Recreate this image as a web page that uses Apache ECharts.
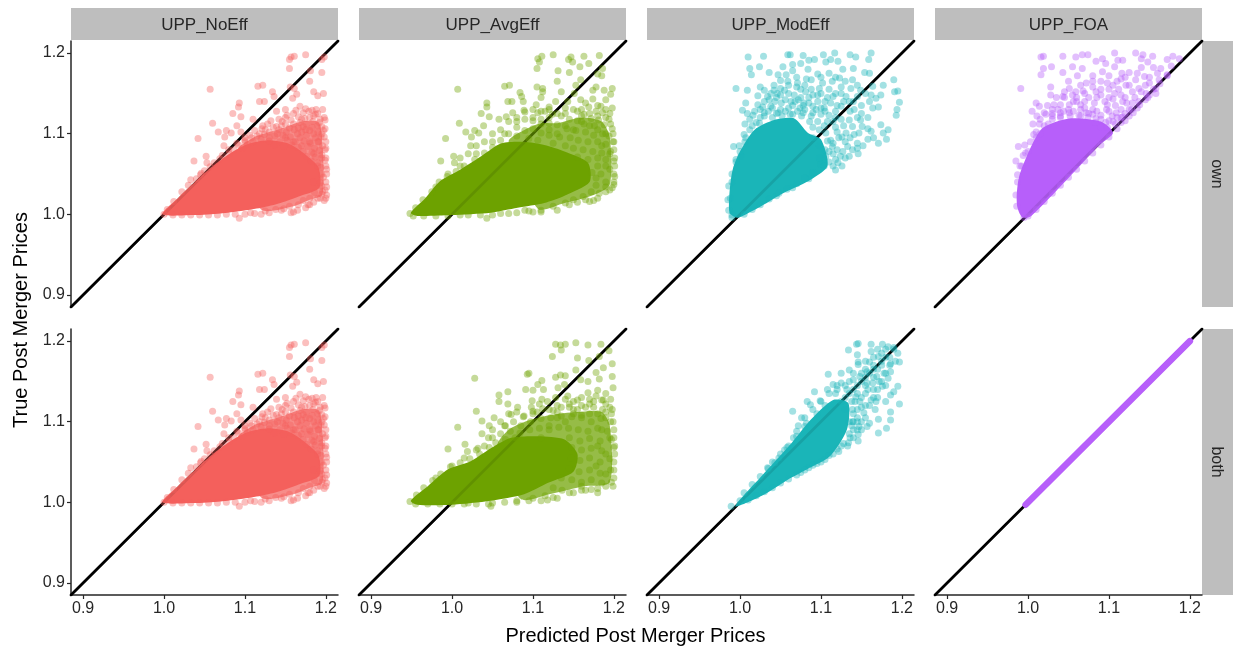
<!DOCTYPE html>
<html><head><meta charset="utf-8">
<script src="https://cdn.jsdelivr.net/npm/echarts@6/dist/echarts.min.js"></script>
<style>html,body{margin:0;padding:0;background:#fff}#c{width:1233px;height:652px}</style>
</head><body><div id="c"></div>
<script>
// Values. Visible points are listed one by one;
// areas where thousands of points overplot into a solid mass are given as outlines.
const columns = ['UPP_NoEff','UPP_AvgEff','UPP_ModEff','UPP_FOA'];
const rowsNames = ['own','both'];
const tickValues = [0.9,1.0,1.1,1.2];
const axisRange = [0.885,1.215];
const colors = ['#F4605C','#6DA200','#1AB5B8','#B75FFA'];
const diagonal = [[0.885,0.885],[1.215,1.215]];
const foaBothLine = [[0.997,0.997],[1.2,1.2]];

const noEffPts = [[1.057,1.155],[1.157,1.195],[1.161,1.196],[1.155,1.192],[1.175,1.198],[1.155,1.181],[1.198,1.195],[1.195,1.192],[1.181,1.178],[1.195,1.176],[1.18,1.165],[1.116,1.159],[1.122,1.16],[1.134,1.152],[1.156,1.158],[1.161,1.156],[1.185,1.152],[1.19,1.147],[1.197,1.15],[1.164,1.149],[1.159,1.144],[1.136,1.146],[1.118,1.14],[1.124,1.14],[1.093,1.138],[1.092,1.133],[1.139,1.128],[1.085,1.125],[1.095,1.121],[1.06,1.113],[1.09,1.11],[1.11,1.118],[1.067,1.102],[1.077,1.104],[1.083,1.101],[1.075,1.096],[1.042,1.094],[1.095,1.102],[1.074,1.085],[1.052,1.072],[1.037,1.066],[1.053,1.064],[1.045,1.049],[1.093,0.995],
[1.15,1.13],[1.16,1.125],[1.168,1.134],[1.175,1.131],[1.183,1.129],[1.188,1.13],[1.19,1.125],[1.196,1.13],[1.198,1.12],[1.15,1.12],[1.16,1.112],[1.17,1.118],[1.18,1.12],[1.19,1.11],[1.199,1.106],[1.198,1.096],[1.185,1.1],[1.175,1.105],[1.165,1.1],[1.155,1.107],[1.145,1.11],[1.135,1.108],[1.125,1.105],[1.118,1.1],[1.108,1.095],[1.1,1.09],[1.142,1.118],
[1.2,1.09],[1.199,1.08],[1.2,1.07],[1.2,1.06],[1.201,1.05],[1.2,1.04],[1.199,1.03],[1.2,1.02],[1.198,1.017],[1.195,1.025],[1.19,1.02],[1.185,1.015],[1.18,1.012],[1.175,1.008],[1.165,1.005],[1.16,1.003],[1.157,1.002],[1.13,1.002],[1.107,1.002],[1.12,1.0],[1.145,1.005],[1.033,1.043],[1.046,1.051],[1.057,1.059],[1.069,1.069],[1.08,1.08],[1.09,1.088],[1.1,1.095],
[1.195,1.1],[1.19,1.09],[1.18,1.09],[1.17,1.085],[1.185,1.075],[1.195,1.07],[1.16,1.09],[1.15,1.095],[1.14,1.1],[1.13,1.095],[1.195,1.05],[1.19,1.06],[1.195,1.035],[1.185,1.04]];
const noEffFill = [[1.163,1.129],[1.172,1.126],[1.179,1.128],[1.187,1.124],[1.152,1.123],[1.166,1.121],[1.174,1.119],[1.185,1.122],[1.193,1.118],[1.132,1.116],[1.146,1.115],[1.157,1.117],[1.168,1.114],[1.176,1.112],[1.184,1.115],[1.192,1.114],[1.199,1.117],[1.122,1.11],[1.128,1.112],[1.139,1.109],[1.15,1.112],[1.166,1.107],[1.172,1.109],[1.183,1.108],[1.195,1.109],[1.112,1.104],[1.121,1.106],[1.13,1.102],[1.142,1.105],[1.151,1.102],[1.161,1.105],[1.17,1.102],[1.18,1.104],[1.19,1.102],[1.197,1.104],[1.106,1.098],[1.115,1.097],[1.124,1.099],[1.137,1.097],[1.147,1.098],[1.156,1.096],[1.168,1.095],[1.176,1.098],[1.187,1.095],[1.194,1.096],[1.1,1.092],[1.11,1.09],[1.12,1.093],[1.13,1.091],[1.143,1.09],[1.152,1.092],[1.162,1.09],[1.173,1.091],[1.181,1.088],[1.191,1.09],[1.092,1.086],[1.103,1.087],[1.136,1.086],[1.148,1.084],[1.158,1.086],[1.166,1.083],[1.178,1.084],[1.186,1.082],[1.196,1.085],[1.086,1.08],[1.097,1.082],[1.172,1.078],[1.183,1.077],[1.192,1.079],[1.2,1.082],[1.08,1.075],[1.176,1.072],[1.187,1.071],[1.195,1.074],[1.182,1.066],[1.19,1.064],[1.199,1.067],[1.194,1.058],[1.201,1.056],[1.197,1.046],[1.193,1.039],[1.201,1.034],[1.196,1.028],[1.201,1.024],[1.193,1.02],[1.186,1.027],[1.18,1.02],[1.172,1.017],[1.178,1.012],[1.166,1.012],[1.155,1.01],[1.148,1.007],[1.138,1.006],[1.125,1.004],[1.112,1.001],[1.1,1.0],[1.088,1.0],[1.077,1.0],[1.066,0.999],[1.055,0.999],[1.044,0.999],[1.033,0.999],[1.022,0.999],[1.011,0.999],[1.0,1.0],[1.004,1.006],[1.012,1.016],[1.022,1.028],[1.03,1.036],[1.04,1.044],[1.05,1.054],[1.062,1.064],[1.072,1.073]];
const avgOwnPts = [[1.007,1.155],[1.105,1.181],[1.106,1.193],[1.111,1.196],[1.108,1.189],[1.125,1.198],[1.147,1.195],[1.144,1.192],[1.163,1.196],[1.182,1.197],[1.149,1.189],[1.169,1.187],[1.158,1.183],[1.131,1.178],[1.145,1.176],[1.186,1.181],[1.18,1.174],[1.13,1.165],[1.159,1.167],[1.185,1.172],[1.065,1.159],[1.071,1.16],[1.105,1.158],[1.112,1.156],[1.153,1.16],[1.178,1.158],[1.198,1.156],[1.188,1.154],[1.135,1.152],[1.084,1.151],[1.112,1.152],[1.151,1.15],[1.174,1.154],[1.196,1.149],[1.086,1.146],[1.11,1.145],[1.128,1.14],[1.069,1.14],[1.074,1.14],[1.088,1.14],[1.043,1.138],[1.043,1.133],[1.104,1.136],[1.12,1.133],[1.089,1.129],[1.143,1.14],[1.159,1.142],[1.174,1.143],[1.19,1.142],[1.198,1.132],[1.184,1.134],[1.036,1.125],[1.046,1.121],[1.075,1.126],[1.067,1.121],[1.058,1.118],[1.009,1.113],[1.039,1.11],[1.017,1.102],[1.028,1.104],[1.033,1.101],[1.024,1.096],[0.992,1.094],[1.023,1.085],[1.002,1.072],[0.986,1.066],[1.003,1.064],[1.043,0.995],
[1.1,1.12],[1.11,1.118],[1.12,1.12],[1.13,1.125],[1.14,1.125],[1.15,1.13],[1.16,1.13],[1.17,1.125],[1.18,1.122],[1.19,1.12],[1.196,1.112],[1.199,1.1],[1.2,1.09],[1.2,1.08],[1.201,1.07],[1.201,1.06],[1.2,1.05],[1.2,1.04],[1.198,1.033],[1.19,1.028],[1.18,1.02],[1.175,1.017],[1.165,1.018],[1.155,1.015],[1.145,1.012],[1.13,1.005],[1.11,1.003],[1.095,1.004],[1.08,1.002],[1.05,0.999],[1.02,0.999],[0.98,1.034],[0.995,1.05],[1.01,1.06],[1.03,1.075],[1.05,1.09],[1.065,1.1],[1.08,1.115],[1.19,1.1],[1.18,1.105],[1.17,1.11],[1.16,1.115],[1.15,1.105],[1.14,1.11],[1.13,1.1],[1.12,1.105],[1.185,1.085],[1.195,1.075],[1.18,1.07],[1.19,1.06],[1.178,1.045],[1.19,1.04],
[1.09,1.127],[1.1,1.13],[1.11,1.128],[1.12,1.13],[1.14,1.132],[1.165,1.138],[1.18,1.135],[1.19,1.13],[1.195,1.125],[1.16,1.122],[1.07,1.115],[1.08,1.12],[1.06,1.105],[1.05,1.1],[1.04,1.09],[1.03,1.085],[1.02,1.075],[1.01,1.07]];
const avgOwnFill = [[1.169,1.133],[1.178,1.128],[1.186,1.126],[1.155,1.128],[1.163,1.124],[1.172,1.119],[1.181,1.117],[1.194,1.118],[1.106,1.126],[1.115,1.128],[1.124,1.124],[1.135,1.122],[1.145,1.118],[1.155,1.116],[1.163,1.112],[1.176,1.11],[1.188,1.111],[1.198,1.106],[1.09,1.118],[1.1,1.116],[1.11,1.112],[1.12,1.113],[1.13,1.111],[1.142,1.106],[1.153,1.104],[1.165,1.102],[1.175,1.098],[1.186,1.1],[1.194,1.097],[1.08,1.108],[1.09,1.104],[1.1,1.106],[1.11,1.101],[1.12,1.098],[1.133,1.096],[1.146,1.095],[1.156,1.092],[1.168,1.09],[1.18,1.09],[1.19,1.087],[1.199,1.09],[1.07,1.1],[1.08,1.097],[1.095,1.094],[1.106,1.092],[1.125,1.088],[1.14,1.085],[1.15,1.082],[1.162,1.08],[1.174,1.078],[1.185,1.076],[1.196,1.078],[1.155,1.071],[1.168,1.068],[1.18,1.06],[1.19,1.068],[1.2,1.066],[1.173,1.052],[1.184,1.05],[1.195,1.056],[1.201,1.047],[1.178,1.036],[1.19,1.034],[1.2,1.037],[1.172,1.028],[1.182,1.026],[1.195,1.03],[1.162,1.022],[1.17,1.016],[1.15,1.018],[1.14,1.014],[1.125,1.01],[1.11,1.005],[1.1,1.003],[1.09,1.005],[1.07,1.001],[1.06,1.001],[1.035,0.999],[1.01,0.999],[0.995,0.998],[0.98,0.998],[0.965,0.998],[0.952,0.998],[0.948,1.001],[0.955,1.008],[0.964,1.018],[0.975,1.028],[0.984,1.04],[0.994,1.047],[1.005,1.053],[1.015,1.06],[1.028,1.068],[1.04,1.076],[1.05,1.083],[1.06,1.092]];
const avgBothPts = [[1.028,1.154],[1.128,1.196],[1.134,1.195],[1.14,1.196],[1.135,1.189],[1.153,1.198],[1.168,1.195],[1.184,1.196],[1.124,1.181],[1.155,1.179],[1.169,1.176],[1.194,1.188],[1.182,1.181],[1.198,1.172],[1.187,1.167],[1.093,1.159],[1.095,1.16],[1.128,1.155],[1.134,1.158],[1.14,1.157],[1.153,1.164],[1.178,1.161],[1.182,1.153],[1.159,1.152],[1.168,1.15],[1.198,1.156],[1.199,1.142],[1.111,1.151],[1.106,1.146],[1.139,1.146],[1.091,1.14],[1.1,1.139],[1.113,1.14],[1.069,1.137],[1.058,1.133],[1.111,1.128],[1.099,1.126],[1.058,1.125],[1.069,1.122],[1.131,1.142],[1.143,1.132],[1.155,1.127],[1.168,1.136],[1.18,1.139],[1.187,1.127],[1.03,1.113],[1.081,1.118],[1.1,1.113],[1.037,1.101],[1.046,1.095],[1.052,1.105],[1.007,1.093],[1.037,1.085],[0.995,1.066],[1.016,1.072],[1.019,1.063],[1.032,1.067],[1.048,0.995],[1.073,1.109],[1.089,1.107],
[1.12,1.115],[1.13,1.12],[1.145,1.118],[1.16,1.12],[1.175,1.125],[1.19,1.122],[1.197,1.11],[1.199,1.1],[1.2,1.09],[1.2,1.08],[1.201,1.07],[1.201,1.06],[1.2,1.05],[1.2,1.04],[1.2,1.03],[1.199,1.02],[1.19,1.02],[1.18,1.017],[1.165,1.015],[1.16,1.02],[1.145,1.012],[1.13,1.005],[1.118,1.003],[1.1,1.005],[1.08,1.002],[1.05,0.999],[1.02,0.999],[0.98,1.03],[1.0,1.045],[1.015,1.055],[1.03,1.065],[1.05,1.08],[1.065,1.095],[1.19,1.105],[1.18,1.11],[1.17,1.11],[1.16,1.105],[1.15,1.11],[1.14,1.1],[1.13,1.105],[1.12,1.095],[1.185,1.09],[1.195,1.08],[1.18,1.07],[1.19,1.06],[1.178,1.045],[1.19,1.035],
[1.098,1.118],[1.108,1.122],[1.118,1.125],[1.128,1.13],[1.14,1.128],[1.15,1.125],[1.16,1.13],[1.17,1.128],[1.178,1.132],[1.19,1.135],[1.196,1.128],[1.198,1.115],[1.105,1.112],[1.13,1.112],[1.15,1.115],[1.17,1.122],[1.19,1.112],[1.08,1.112],[1.07,1.11],[1.06,1.1],[1.05,1.09],[1.045,1.08],[1.04,1.07]];
const avgBothFill = [[1.185,1.127],[1.175,1.118],[1.186,1.115],[1.195,1.118],[1.165,1.118],[1.155,1.115],[1.145,1.122],[1.135,1.118],[1.125,1.114],[1.112,1.116],[1.1,1.11],[1.088,1.106],[1.076,1.1],[1.066,1.095],[1.085,1.095],[1.097,1.1],[1.11,1.104],[1.122,1.105],[1.135,1.107],[1.148,1.106],[1.16,1.108],[1.172,1.1],[1.184,1.104],[1.196,1.1],[1.06,1.085],[1.072,1.088],[1.084,1.086],[1.096,1.09],[1.108,1.092],[1.12,1.09],[1.132,1.093],[1.144,1.092],[1.156,1.09],[1.168,1.088],[1.18,1.092],[1.192,1.088],[1.054,1.074],[1.066,1.078],[1.078,1.08],[1.11,1.08],[1.145,1.08],[1.158,1.076],[1.17,1.079],[1.183,1.076],[1.197,1.078],[1.148,1.068],[1.16,1.065],[1.172,1.067],[1.185,1.064],[1.2,1.068],[1.147,1.055],[1.158,1.052],[1.17,1.055],[1.183,1.05],[1.195,1.054],[1.145,1.042],[1.157,1.038],[1.17,1.04],[1.183,1.036],[1.196,1.04],[1.135,1.03],[1.148,1.028],[1.16,1.025],[1.172,1.028],[1.185,1.024],[1.197,1.025],[1.125,1.018],[1.136,1.015],[1.15,1.012],[1.16,1.015],[1.172,1.016],[1.18,1.012],[1.115,1.008],[1.125,1.006],[1.11,1.002],[1.095,1.002],[1.08,1.0],[1.065,1.0],[1.045,0.998],[1.03,0.998],[1.015,0.998],[1.0,0.998],[0.985,0.998],[0.97,0.998],[0.955,0.998],[0.948,1.001],[0.956,1.009],[0.965,1.018],[0.976,1.027],[0.986,1.035],[0.998,1.044],[1.01,1.049],[1.022,1.054],[1.034,1.06],[1.046,1.068]];
const modOwnPts = [[1.01,1.195],[1.029,1.196],[1.059,1.198],[1.062,1.198],[1.078,1.197],[1.103,1.198],[1.117,1.2],[1.136,1.198],[1.143,1.195],[1.162,1.2],[1.159,1.192],[1.012,1.181],[1.024,1.183],[1.014,1.173],[1.036,1.176],[1.053,1.183],[1.065,1.186],[1.075,1.187],[1.085,1.191],[1.092,1.192],[1.112,1.192],[1.121,1.19],[1.106,1.189],[1.127,1.18],[1.14,1.181],[1.154,1.176],[1.16,1.175],[1.084,1.18],[1.065,1.178],[1.047,1.173],[1.057,1.173],[1.096,1.174],[1.11,1.175],[1.123,1.169],[1.139,1.167],[1.19,1.167],[0.995,1.156],[1.009,1.154],[1.025,1.158],[1.042,1.16],[1.059,1.165],[1.071,1.163],[1.088,1.167],[1.102,1.163],[1.114,1.165],[1.125,1.158],[1.137,1.156],[1.149,1.154],[1.164,1.159],[1.177,1.16],[1.191,1.152],[1.195,1.153],[1.197,1.139],[1.194,1.13],[1.193,1.123],[1.168,1.144],[1.162,1.148],[1.174,1.148],[1.164,1.132],[1.171,1.133],[1.022,1.147],[1.042,1.154],[1.055,1.154],[1.067,1.148],[1.081,1.152],[1.1,1.15],[1.131,1.146],[1.145,1.146],[1.007,1.138],[1.003,1.129],[1.009,1.125],[1.022,1.136],[1.036,1.142],[1.051,1.138],[1.063,1.14],[1.079,1.138],[1.096,1.14],[1.112,1.138],[1.125,1.134],[1.141,1.13],[1.016,1.123],[1.03,1.126],[1.047,1.126],[1.071,1.128],[1.09,1.126],[1.11,1.123],[1.135,1.117],[1.149,1.117],[1.128,1.11],[1.139,1.109],[1.151,1.109],[1.174,1.111],[1.162,1.103],[1.183,1.105],[1.177,1.101],[1.181,1.093],[1.171,1.088],[1.158,1.093],[1.147,1.101],[1.141,1.099],[1.131,1.101],[1.133,1.084],[1.146,1.075],[1.139,1.08],[1.127,1.078],[1.121,1.064],[1.124,1.072],[1.006,1.112],[1.005,1.099],[1.007,1.095],[0.992,1.084],[0.999,1.085],[1.001,1.072],[0.995,1.068],[1.024,1.113],[1.106,1.101],[1.108,1.091],[1.114,1.084],[1.106,1.072],
[1.03,1.14],[1.045,1.145],[1.06,1.15],[1.075,1.145],[1.09,1.148],[1.105,1.14],[1.118,1.128],[1.04,1.132],[1.06,1.132],[1.08,1.13],[1.1,1.132],[1.115,1.115],[1.122,1.095],[1.13,1.07],[1.115,1.06],[1.1,1.062],[1.085,1.044],[1.065,1.033],[1.045,1.023],[1.025,1.012],[0.99,1.04],[0.988,1.02],[0.986,1.005],[0.99,0.996],
[1.012,1.118],[1.018,1.128],[1.028,1.133],[1.035,1.128],[1.043,1.14],[1.056,1.142],[1.068,1.14],[1.074,1.132],[1.085,1.138],[1.094,1.13],[1.104,1.132],[1.108,1.145],[1.056,1.128],[1.046,1.15],[1.06,1.16],[1.075,1.155],[1.088,1.155],[1.098,1.156],[1.11,1.155],[1.118,1.15],[1.128,1.14],[1.12,1.135],[1.038,1.15],[1.05,1.156],[1.07,1.17],[1.082,1.168],[1.1,1.17],[1.118,1.17],[1.13,1.165],[1.145,1.16],[1.155,1.15],[1.14,1.14],[1.15,1.135],[1.136,1.128],[1.145,1.12],[1.158,1.12],[1.125,1.118],[1.118,1.108],[1.126,1.096],[1.136,1.095],[1.145,1.082],[1.135,1.072],[1.126,1.06],[1.118,1.055],[1.115,1.088],[1.108,1.115],[1.088,1.122],[1.078,1.126],[1.065,1.124],[1.045,1.125],[1.025,1.12],[1.015,1.11],[1.098,1.105],[1.09,1.108],[1.11,1.078],[1.12,1.08]];
const modOwnFill = [[1.03,1.122],[1.04,1.12],[1.052,1.122],[1.062,1.124],[1.076,1.122],[1.086,1.115],[1.096,1.115],[1.104,1.11],[1.1,1.124],[1.02,1.114],[1.012,1.105],[1.006,1.09],[1.0,1.078],[0.995,1.065],[0.99,1.05],[0.986,1.035],[0.985,1.018],[1.025,1.13],[1.038,1.134],[1.05,1.13],[1.065,1.135],[1.078,1.135],[1.09,1.134],[1.105,1.128],[1.118,1.12],[1.034,1.146],[1.05,1.148],[1.072,1.142],[1.085,1.145],[1.096,1.148],[1.115,1.146],[1.07,1.158],[1.05,1.166],[1.08,1.16],[1.03,1.154],[1.09,1.095],[1.098,1.085],[1.105,1.08],[1.112,1.092],[1.115,1.075],[1.11,1.065],[1.118,1.068],[1.098,1.07],[1.104,1.06],[1.09,1.052],[1.08,1.045],[1.07,1.038],[1.058,1.031],[1.048,1.026],[1.036,1.019],[1.015,1.006],[1.005,1.0],[0.99,0.999],[1.13,1.09],[1.12,1.102],[1.152,1.085],[1.145,1.088],[1.165,1.095],[1.158,1.106],[1.15,1.125],[1.16,1.14],[1.125,1.15],[1.135,1.14]];
const foaOwnPts = [[0.991,1.156],[1.016,1.195],[1.019,1.196],[1.043,1.196],[1.059,1.195],[1.067,1.198],[1.074,1.198],[1.084,1.19],[1.092,1.193],[1.096,1.187],[1.107,1.2],[1.111,1.191],[1.117,1.191],[1.133,1.2],[1.142,1.198],[1.14,1.193],[1.148,1.189],[1.154,1.196],[1.172,1.192],[1.179,1.196],[1.187,1.193],[1.177,1.184],[1.019,1.181],[1.029,1.183],[1.016,1.173],[1.043,1.176],[1.055,1.183],[1.067,1.181],[1.107,1.183],[1.14,1.182],[1.155,1.182],[1.164,1.181],[1.116,1.175],[1.125,1.176],[1.08,1.172],[1.092,1.177],[1.133,1.167],[1.144,1.171],[1.172,1.173],[1.162,1.167],[1.061,1.172],[1.028,1.158],[1.051,1.156],[1.072,1.163],[1.098,1.163],[1.121,1.16],[1.15,1.163],[1.158,1.156],[1.137,1.156],[1.028,1.148],[1.043,1.146],[1.059,1.152],[1.084,1.152],[1.107,1.15],[1.129,1.152],[1.146,1.15],[1.01,1.138],[1.005,1.128],[1.014,1.134],[1.024,1.135],[1.011,1.122],[1.02,1.126],[1.037,1.13],[1.051,1.136],[1.065,1.136],[1.082,1.138],[1.098,1.136],[1.117,1.14],[1.129,1.138],[1.137,1.14],[1.006,1.112],[1.014,1.112],[1.007,1.099],[1.01,1.095],[0.988,1.084],[0.996,1.086],[0.994,1.073],[0.985,1.066],[0.987,1.049],[1.051,1.126],[1.072,1.126],[1.09,1.123],[1.109,1.126],[1.125,1.13],[1.117,1.121],[1.105,1.115],[1.084,1.119],
[1.045,1.145],[1.06,1.14],[1.075,1.145],[1.09,1.148],[1.1,1.145],[1.115,1.148],[1.03,1.125],[1.04,1.12],[1.065,1.13],[1.08,1.13],[1.1,1.128],[1.115,1.13],[0.99,1.06],[1.0,1.078],[1.015,1.1],[1.025,1.112],
[1.015,1.118],[1.022,1.124],[1.032,1.136],[1.044,1.128],[1.056,1.128],[1.07,1.132],[1.08,1.124],[1.09,1.118],[1.1,1.116],[1.11,1.12],[1.12,1.125],[1.128,1.13],[1.138,1.136],[1.148,1.145],[1.158,1.15],[1.095,1.14],[1.105,1.143],[1.122,1.138],[1.132,1.145],[1.145,1.16],[1.125,1.16],[1.112,1.155],[1.1,1.155],[1.085,1.145],[1.07,1.15],[1.055,1.148],[1.045,1.152],[1.035,1.145],[1.065,1.16],[1.08,1.158],[1.09,1.165],[1.1,1.172],[1.11,1.165],[1.12,1.17],[1.135,1.175],[1.15,1.17],[1.16,1.175],[1.06,1.145],[1.075,1.125],[1.065,1.122],[1.05,1.13],[1.04,1.126],[1.03,1.122],[1.104,1.122],[1.115,1.12],[1.096,1.114]];
const foaOwnFill = [[1.02,1.11],[1.03,1.118],[1.04,1.122],[1.052,1.122],[1.063,1.123],[1.074,1.12],[1.083,1.114],[1.09,1.108],[1.098,1.108],[1.108,1.112],[1.115,1.114],[1.125,1.122],[1.135,1.132],[1.145,1.142],[1.155,1.155],[1.15,1.148],[1.163,1.162],[1.172,1.172],[1.03,1.13],[1.04,1.136],[1.056,1.14],[1.07,1.14],[1.085,1.128],[1.097,1.13],[1.108,1.135],[1.12,1.145],[1.14,1.152],[1.05,1.165],[1.068,1.153],[1.09,1.155],[1.105,1.16],[1.08,1.165],[1.115,1.168],[1.01,1.102],[1.003,1.09],[0.997,1.076],[0.992,1.06],[0.987,1.04],[0.985,1.024],[0.986,1.01],[0.995,0.996],[1.0,0.998],[1.01,1.006],[1.02,1.016],[1.03,1.026],[1.04,1.036],[1.05,1.046],[1.06,1.056],[1.07,1.066],[1.08,1.076],[1.09,1.086],[1.1,1.096],[1.11,1.106],[1.12,1.116],[1.13,1.126]];
const modBothPts = [[1.146,1.197],[1.144,1.196],[1.134,1.189],[1.162,1.196],[1.176,1.196],[1.183,1.193],[1.162,1.187],[1.145,1.183],[1.146,1.174],[1.146,1.171],[1.195,1.185],[1.197,1.174],[1.186,1.172],[1.171,1.181],[1.16,1.174],[1.109,1.159],[1.125,1.16],[1.135,1.164],[1.157,1.162],[1.169,1.156],[1.183,1.154],[1.195,1.144],[1.19,1.137],[1.186,1.133],[1.197,1.122],[1.176,1.144],[1.186,1.162],[1.164,1.148],[1.115,1.146],[1.108,1.14],[1.092,1.137],[1.083,1.125],[1.099,1.126],[1.087,1.121],[1.065,1.113],[1.076,1.105],[1.072,1.095],[1.08,1.094],[1.157,1.094],[1.181,1.092],[1.171,1.086],[1.16,1.098],[1.171,1.103],[1.186,1.102],[1.186,1.112],[1.167,1.115],[1.153,1.111],[1.139,1.115],[1.148,1.125],[1.162,1.127],[1.143,1.131],[1.146,1.084],[1.134,1.074],[1.146,1.076],[1.122,1.063],[1.133,1.07],[1.147,1.094],[1.139,1.1],[1.055,1.065],[1.066,1.08],[1.043,1.049],[1.034,1.043],[0.989,0.995],[1.125,1.148],[1.132,1.14],[1.148,1.156],[1.157,1.148],
[1.13,1.13],[1.14,1.14],[1.15,1.15],[1.16,1.16],[1.17,1.165],[1.18,1.18],[1.19,1.19],[1.175,1.15],[1.165,1.14],[1.155,1.135],[1.145,1.105],[1.14,1.09],[1.15,1.1],[1.16,1.12],[1.17,1.13],[1.18,1.145],[1.18,1.125],[1.12,1.14],[1.125,1.125],[1.135,1.1],
[1.1,1.125],[1.11,1.135],[1.12,1.145],[1.135,1.135],[1.142,1.125],[1.15,1.118],[1.145,1.135],[1.158,1.14],[1.165,1.13],[1.172,1.15],[1.165,1.165],[1.175,1.175],[1.185,1.17],[1.165,1.18],[1.155,1.175],[1.18,1.19],[1.17,1.19],[1.155,1.155],[1.145,1.145],[1.14,1.16],[1.135,1.15],[1.13,1.115],[1.14,1.08],[1.14,1.1],[1.15,1.09],[1.145,1.09],[1.135,1.085],[1.125,1.07],[1.115,1.06],[1.105,1.053],[1.095,1.048],[1.085,1.043],[1.075,1.037],[1.06,1.07],[1.07,1.088],[1.08,1.105],[1.09,1.115],[1.05,1.06],[1.04,1.05]];
const modBothFill = [[1.0,1.002],[1.01,1.003],[1.02,1.008],[1.03,1.013],[1.04,1.018],[1.05,1.024],[1.06,1.029],[1.07,1.034],[1.08,1.04],[1.09,1.046],[1.1,1.05],[1.11,1.058],[1.12,1.066],[1.128,1.073],[1.005,1.012],[1.015,1.022],[1.025,1.032],[1.035,1.042],[1.048,1.055],[1.058,1.068],[1.07,1.082],[1.082,1.098],[1.095,1.11],[1.105,1.12],[1.118,1.135],[1.13,1.145],[1.138,1.125],[1.14,1.11],[1.138,1.095],[1.136,1.08],[1.145,1.115],[1.15,1.13],[1.155,1.145],[1.165,1.155],[1.175,1.17],[1.185,1.18],[1.192,1.175],[1.178,1.16],[1.168,1.125],[1.155,1.105],[1.145,1.1],[1.165,1.17],[1.155,1.165],[1.175,1.185],[1.19,1.192],[1.17,1.14],[1.18,1.16],[1.155,1.12],[1.15,1.16],[1.14,1.152]];

const noEffDense = [[1.09,1.078],[1.11,1.095],[1.13,1.102],[1.15,1.108],[1.17,1.115],[1.19,1.115],[1.195,1.1],[1.196,1.025],[1.18,1.018],[1.16,1.01],[1.12,1.006]];
const noEffCore = [[0.998,1.0],[1.017,1.02],[1.037,1.039],[1.058,1.058],[1.079,1.074],[1.103,1.087],[1.128,1.092],[1.153,1.088],[1.175,1.074],[1.191,1.058],[1.192,1.033],[1.169,1.023],[1.144,1.014],[1.12,1.008],[1.095,1.004],[1.07,1.001],[1.037,0.999]];
const avgOwnDense = [[1.07,1.09],[1.09,1.105],[1.11,1.113],[1.13,1.113],[1.16,1.12],[1.185,1.115],[1.195,1.095],[1.195,1.037],[1.175,1.024],[1.139,1.014],[1.106,1.007]];
const avgOwnCore = [[0.949,1.002],[0.966,1.019],[0.985,1.041],[1.011,1.056],[1.036,1.072],[1.061,1.088],[1.089,1.09],[1.114,1.086],[1.139,1.078],[1.168,1.064],[1.17,1.04],[1.139,1.023],[1.114,1.014],[1.081,1.008],[1.048,1.002],[0.999,0.999],[0.957,0.998]];
const avgBothDense = [[1.056,1.07],[1.07,1.09],[1.09,1.1],[1.12,1.108],[1.155,1.112],[1.185,1.112],[1.195,1.095],[1.195,1.025],[1.163,1.02],[1.12,1.01],[1.085,1.004]];
const avgBothCore = [[0.949,1.002],[0.97,1.02],[0.995,1.041],[1.023,1.051],[1.048,1.067],[1.073,1.08],[1.106,1.082],[1.139,1.078],[1.155,1.06],[1.15,1.038],[1.118,1.024],[1.089,1.01],[1.048,1.002],[0.999,0.997],[0.957,0.997]];
const modOwnCore = [[0.987,1.002],[0.987,1.027],[0.991,1.056],[1.001,1.08],[1.018,1.105],[1.042,1.117],[1.067,1.119],[1.084,1.101],[1.1,1.093],[1.108,1.06],[1.084,1.041],[1.055,1.027],[1.026,1.01],[0.999,0.996],[0.995,0.996]];
const foaOwnCore = [[0.993,0.996],[1.004,0.998],[1.05,1.045],[1.088,1.086],[1.105,1.101],[1.09,1.115],[1.051,1.119],[1.018,1.107],[1.002,1.08],[0.989,1.047],[0.986,1.023],[0.987,1.008]];
const modBothCore = [[0.994,0.995],[1.027,1.033],[1.064,1.074],[1.087,1.102],[1.115,1.127],[1.134,1.123],[1.132,1.09],[1.111,1.057],[1.083,1.041],[1.059,1.028],[1.027,1.008]];

const panels = [
 [{pts:[...noEffPts,...noEffFill],dense:noEffDense,core:noEffCore},{pts:[...avgOwnPts,...avgOwnFill],dense:avgOwnDense,core:avgOwnCore},{pts:[...modOwnPts,...modOwnFill],core:modOwnCore},{pts:[...foaOwnPts,...foaOwnFill],core:foaOwnCore}],
 [{pts:[...noEffPts,...noEffFill],dense:noEffDense,core:noEffCore},{pts:[...avgBothPts,...avgBothFill],dense:avgBothDense,core:avgBothCore},{pts:[...modBothPts,...modBothFill],core:modBothCore},{line:foaBothLine}]
];

const colX=[71,359,647,935], rowY=[41,329], W=267, H=266;
const ink='#262626';
const grid=[],xAxis=[],yAxis=[],series=[],graphic=[];
function poly(pts,color,op,z,i){
  return {type:'custom',xAxisIndex:i,yAxisIndex:i,z,silent:true,animation:false,data:pts,clip:true,
    renderItem:(p,api)=>{ if(p.dataIndex!==0) return null;
      return {type:'polygon',shape:{points:pts.map(q=>api.coord(q)),smooth:0.25},style:{fill:color,opacity:op}}; }};
}
rowsNames.forEach((rn,r)=>columns.forEach((cn,c)=>{
  const i=grid.length, P=panels[r][c], col=colors[c];
  grid.push({left:colX[c],top:rowY[r],width:W,height:H,containLabel:false});
  const axisBase={type:'value',min:axisRange[0],max:axisRange[1],splitLine:{show:false},
    axisLine:{show:true,onZero:false,lineStyle:{color:ink,width:1.5}},
    axisTick:{show:true,length:4,customValues:tickValues,lineStyle:{color:ink,width:1.2}},
    axisLabel:{show:true,customValues:tickValues,formatter:v=>Number(v).toFixed(1),margin:6,
      fontFamily:'Liberation Sans',fontSize:16,color:'#262626',showMinLabel:true,showMaxLabel:true}};
  xAxis.push(Object.assign({},axisBase,{gridIndex:i,show:r===1}));
  yAxis.push(Object.assign({},axisBase,{gridIndex:i,show:c===0}));
  series.push({type:'line',xAxisIndex:i,yAxisIndex:i,data:diagonal,symbol:'none',z:1,silent:true,animation:false,
    lineStyle:{color:'#000',width:2.8,cap:'round'}});
  if(P.line){
    series.push({type:'line',xAxisIndex:i,yAxisIndex:i,data:P.line,symbol:'none',z:5,silent:true,animation:false,
      lineStyle:{color:col,width:6.5,cap:'round'}});
  } else {
    if(P.dense) series.push(poly(P.dense,col,0.72,2,i));
    series.push(poly(P.core,col,1,3,i));
    series.push({type:'line',xAxisIndex:i,yAxisIndex:i,data:diagonal,symbol:'none',z:3,silent:true,animation:false,
      lineStyle:{color:'#000',width:2.8,opacity:0.1}});
    series.push({type:'scatter',xAxisIndex:i,yAxisIndex:i,data:P.pts,symbolSize:7,z:4,silent:true,animation:false,large:false,
      itemStyle:{color:col,opacity:0.4}});
  }
}));
columns.forEach((n,c)=>{
  graphic.push({type:'rect',left:colX[c],top:8,shape:{width:W,height:32},style:{fill:'#BEBEBE'},silent:true});
  graphic.push({type:'text',x:colX[c]+W/2,y:25,style:{text:n,fill:ink,font:'17px "Liberation Sans"',align:'center',verticalAlign:'middle'},silent:true});
});
rowsNames.forEach((n,r)=>{
  graphic.push({type:'rect',left:1202,top:rowY[r],shape:{width:31,height:H},style:{fill:'#BEBEBE'},silent:true});
  graphic.push({type:'text',x:1216,y:rowY[r]+H/2,rotation:-Math.PI/2,style:{text:n,fill:ink,font:'16px "Liberation Sans"',align:'center',verticalAlign:'middle'},silent:true});
});
graphic.push({type:'text',x:635.5,y:636,style:{text:'Predicted Post Merger Prices',fill:'#000',font:'20px "Liberation Sans"',align:'center',verticalAlign:'middle'},silent:true});
graphic.push({type:'text',x:21,y:320,rotation:Math.PI/2,style:{text:'True Post Merger Prices',fill:'#000',font:'20px "Liberation Sans"',align:'center',verticalAlign:'middle'},silent:true});

const chart=echarts.init(document.getElementById('c'),null,{renderer:'canvas'});
chart.setOption({animation:false,backgroundColor:'#fff',grid,xAxis,yAxis,series,graphic});
</script></body></html>
